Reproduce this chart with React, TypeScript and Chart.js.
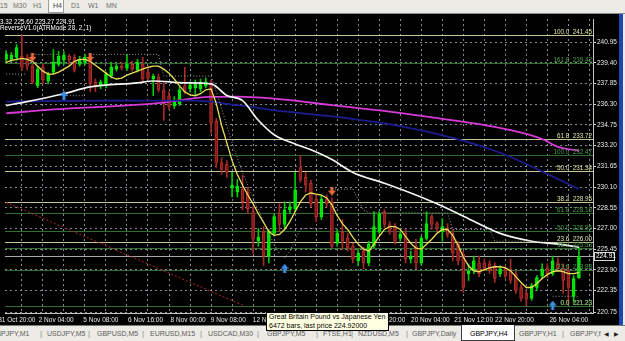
import React, { useEffect, useRef } from 'react';
import { Chart, registerables } from 'chart.js';

Chart.register(...registerables);
Chart.defaults.font.family = '"Liberation Sans", Arial, sans-serif';

// ---------------- data (GBPJPY, H4) ----------------
const opens = [
  239.66, 239.66, 239.81, 239.88, 239.74, 239.15, 237.68, 239.07, 238.04, 238.71,
  239.29, 239.59, 239.88, 239.81, 239.29, 239.44, 239.59, 237.97, 237.68, 237.68,
  238.41, 238.93, 239.15, 239.00, 239.29, 238.85, 239.29, 238.71, 238.19, 238.34,
  237.38, 236.94, 236.20, 236.35, 237.68, 237.45, 237.53, 237.45, 237.68, 237.82,
  235.03, 231.94, 231.79, 230.02, 229.73, 229.95, 229.73, 228.26, 226.05, 226.78,
  224.94, 226.64, 228.04, 227.30, 228.40, 228.48, 231.57, 230.83, 230.39, 229.21,
  227.89, 229.21, 228.99, 225.90, 226.78, 226.27, 225.68, 224.58, 225.31, 224.43,
  225.68, 226.78, 228.26, 227.30, 227.15, 226.27, 226.64, 224.72, 225.68, 224.43,
  226.27, 227.89, 227.37, 226.78, 227.01, 226.64, 225.83, 225.09, 223.62, 223.84,
  224.43, 224.43, 224.36, 224.21, 223.62, 223.99, 223.84, 223.62, 222.59, 222.15,
  221.78, 222.59, 223.48, 224.06, 223.62, 224.43, 223.99, 223.84, 221.93, 223.32,
];
const highs = [
  240.32, 240.18, 240.77, 241.45, 240.03, 239.29, 239.15, 239.29, 238.71, 240.40,
  240.25, 240.25, 240.03, 240.03, 239.88, 240.03, 239.74, 238.19, 238.12, 238.71,
  239.44, 239.29, 239.44, 240.03, 239.51, 239.66, 239.81, 239.00, 238.56, 238.56,
  237.97, 237.23, 236.87, 237.60, 239.07, 237.97, 238.12, 238.19, 238.26, 238.12,
  235.25, 232.30, 232.08, 231.20, 230.68, 230.98, 230.10, 228.63, 227.01, 227.15,
  226.93, 228.11, 228.85, 228.99, 228.99, 231.20, 232.45, 231.20, 230.61, 229.58,
  229.51, 229.51, 229.29, 226.93, 227.67, 226.64, 225.90, 225.46, 225.61, 226.05,
  228.26, 228.26, 228.40, 227.52, 227.37, 226.78, 226.93, 225.31, 226.20, 226.42,
  228.26, 228.04, 227.52, 227.74, 227.37, 226.93, 226.05, 225.31, 224.36, 224.94,
  224.94, 224.72, 224.58, 224.43, 224.21, 224.21, 224.72, 223.84, 222.81, 222.37,
  222.89, 223.48, 224.36, 224.36, 224.94, 224.80, 224.36, 224.21, 223.48, 225.60,
];
const lows = [
  239.44, 239.51, 239.59, 238.85, 238.85, 237.82, 237.53, 237.82, 237.82, 238.56,
  239.15, 239.29, 239.29, 238.71, 239.15, 239.29, 237.23, 237.23, 237.45, 237.53,
  238.26, 238.78, 238.85, 238.85, 238.78, 238.71, 237.97, 238.12, 236.94, 237.23,
  235.10, 235.91, 235.98, 236.20, 237.09, 237.23, 236.94, 237.23, 237.53, 234.14,
  231.57, 231.05, 230.83, 229.36, 229.36, 228.40, 228.11, 225.16, 225.68, 224.21,
  224.43, 226.42, 226.78, 226.93, 228.11, 228.26, 230.46, 229.73, 228.63, 227.52,
  227.67, 228.63, 225.53, 225.68, 225.46, 225.31, 224.43, 224.21, 223.99, 224.21,
  225.53, 226.64, 227.08, 226.56, 225.83, 226.05, 224.43, 224.43, 223.99, 224.28,
  226.12, 226.93, 226.78, 226.05, 226.34, 224.58, 224.28, 222.22, 223.11, 223.62,
  223.40, 223.84, 223.62, 222.96, 223.40, 223.26, 222.89, 222.15, 221.56, 221.23,
  221.63, 222.37, 223.26, 223.33, 223.48, 223.84, 222.15, 221.30, 221.49, 223.27,
];
const closes = [
  240.03, 239.96, 240.54, 239.07, 239.15, 237.97, 238.93, 238.12, 238.56, 239.44,
  239.88, 239.96, 239.59, 238.85, 239.66, 239.81, 237.82, 237.60, 237.97, 238.56,
  239.07, 239.15, 239.00, 239.29, 238.93, 239.44, 238.19, 238.26, 238.41, 237.38,
  236.35, 236.13, 236.50, 237.38, 237.23, 237.75, 237.82, 237.90, 237.97, 234.88,
  231.94, 231.42, 231.20, 230.24, 230.17, 228.99, 228.48, 226.20, 226.34, 224.94,
  226.78, 227.89, 227.30, 228.40, 228.63, 229.88, 230.68, 230.24, 228.85, 227.89,
  229.21, 228.85, 225.68, 226.64, 226.05, 225.53, 224.72, 225.16, 224.43, 225.83,
  227.15, 228.11, 227.30, 226.78, 226.05, 226.56, 224.72, 224.94, 224.43, 226.27,
  227.37, 227.30, 227.01, 227.15, 226.56, 225.16, 224.58, 222.59, 223.84, 224.58,
  223.62, 224.06, 223.84, 223.26, 223.99, 223.48, 223.11, 222.37, 221.78, 221.71,
  222.74, 223.33, 223.99, 223.62, 224.58, 223.99, 223.11, 222.59, 223.26, 224.91,
];

// fast moving average (yellow), one value per bar
const fastMA = [
  239.44, 239.59, 239.66, 239.74, 239.66, 239.51, 239.15, 238.78, 238.56, 238.56,
  238.71, 238.93, 239.15, 239.51, 239.66, 239.66, 239.51, 239.22, 238.93, 238.63,
  238.34, 238.19, 238.26, 238.48, 238.63, 238.78, 238.93, 239.07, 239.15, 239.15,
  238.93, 238.63, 238.19, 237.68, 237.23, 237.01, 236.94, 237.09, 237.38, 237.45,
  236.35, 234.73, 233.41, 232.08, 231.05, 230.24, 229.51, 228.85, 228.11, 227.45,
  226.78, 226.49, 226.56, 226.93, 227.52, 228.26, 228.99, 229.51, 229.66, 229.58,
  229.51, 229.29, 228.77, 227.96, 227.37, 226.93, 226.34, 225.83, 225.46, 225.31,
  225.83, 226.42, 226.93, 227.15, 227.15, 226.93, 226.42, 225.90, 225.53, 225.46,
  225.83, 226.20, 226.64, 226.93, 226.93, 226.49, 225.75, 224.87, 224.21, 223.84,
  223.77, 223.92, 224.06, 224.14, 224.14, 224.06, 223.84, 223.40, 222.96, 222.59,
  222.59, 222.89, 223.26, 223.55, 223.77, 223.84, 223.77, 223.62, 223.62, 223.70,
];

// slower averages, read at selected bars
const whiteBars = [0, 4, 11, 16, 25, 28, 34, 39, 42, 45, 48, 51, 55, 58, 62, 66, 72, 77, 82, 88, 94, 100, 105, 109];
const whiteMA = [236.20, 236.50, 237.09, 237.60, 237.90, 238.04, 237.90, 237.82, 236.96, 236.57, 235.10, 234.02, 233.33, 232.89, 232.16, 231.20, 230.39, 229.66, 228.85, 227.74, 226.64, 226.05, 225.83, 225.61];
const blueBars = [0, 19, 36, 44, 53, 62, 75, 85, 94, 102, 109];
const blueMA = [236.50, 236.57, 236.57, 236.23, 235.76, 235.39, 234.66, 233.78, 232.67, 231.27, 229.95];
const magentaBars = [0, 9, 19, 28, 39, 44, 53, 62, 71, 81, 90, 96, 102, 105, 109];
const magentaMA = [235.62, 235.91, 236.13, 236.35, 236.85, 236.87, 236.65, 236.23, 235.84, 235.32, 234.81, 234.36, 233.70, 233.11, 232.82];

// ReverseV1.0 trailing stop (dotted), above / below price
const stopAbove = [
  null, null, null, null, null, 240.03, 240.03, 240.03, 240.03, 240.03,
  240.03, null, null, null, null, null, 240.03, 240.03, 240.03, 240.03,
  240.03, 240.03, 240.03, 240.03, 240.03, 240.03, 240.03, 240.03, 240.03, 240.03,
  238.41, 238.41, 238.41, 238.41, 238.41, 238.41, 238.41, 238.41, 238.41, 238.41,
  237.23, 235.98, 234.73, 233.41, 232.30, 231.20, 230.24, 229.29, 228.40, 227.52,
  226.64, 225.83, 225.16, null, null, null, null, null, null, null,
  null, null, 229.95, 229.95, 229.95, 229.95, 229.95, 229.14, 228.40, 228.18,
  228.18, 228.18, 228.18, 228.18, 228.18, 228.18, 228.18, 228.18, 228.18, 228.18,
  228.18, 228.18, 228.18, 228.18, 228.18, 226.93, 226.93, 226.93, 226.93, 226.93,
  226.93, 226.93, 226.93, 226.05, 226.05, 226.05, 226.05, 226.05, 226.05, 226.05,
  226.05, 226.05, 226.05, 226.05, null, null, null, null, null, null,
];
const stopBelow = [
  238.56, 238.56, 238.56, 238.56, 238.56, null, null, null, null, null,
  null, 236.94, 236.94, 236.94, 236.94, 236.94, null, null, null, null,
  null, null, null, null, null, null, null, null, null, null,
  null, null, null, null, null, null, null, null, null, null,
  null, null, null, null, null, null, null, null, null, null,
  null, null, null, 224.80, 225.31, 226.20, 226.93, 227.01, 227.01, 227.01,
  227.01, 227.01, null, null, null, null, null, null, null, null,
  null, null, null, null, null, null, null, null, null, null,
  null, null, null, null, null, null, null, null, null, null,
  null, null, null, null, null, null, null, null, null, null,
  null, null, null, null, 221.93, 221.93, 221.93, 221.93, 221.93, 221.93,
];

// signal arrows
const sellBars = [5, 16, 62];
const sellPrices = [239.81, 239.81, 229.80];
const buyBars = [11, 53, 104];
const buyPrices = [236.98, 224.03, 221.27];

// hand-drawn trend line (red dotted)
const trendBars = [0, 45];
const trendPrices = [228.96, 221.27];

// Fibonacci retracements
const fibALevels = ['0.0', '23.6', '38.2', '50.0', '61.8', '100.0'];
const fibAPrices = [221.23, 226.00, 228.95, 231.34, 233.72, 241.45];
const fibBLevels = ['0.0', '23.6', '38.2', '50.0', '61.8', '100.0', '161.8'];
const fibBPrices = [221.23, 223.88, 225.53, 226.85, 228.18, 232.47, 239.42];

const lastPrice = 224.91;
const headerOHLC = '223.32 225.60 223.27 224.91';
const indicatorName = 'ReverseV1.0(ATRMode 28, 2, 1)';

// axes
const priceTicks = [220.75, 222.35, 223.90, 225.45, 227.00, 228.55, 230.10, 231.65, 233.20, 234.75, 236.30, 237.85, 239.40, 240.95];
const timeTickBars = [-1.5, 6.2, 14.7, 23.2, 31.3, 38.95, 46.95, 68.6, 77.05, 85.3, 93.05, 103.4];
const timeLabels = ['31 Oct 20:00', '2 Nov 04:00', '5 Nov 08:00', '6 Nov 16:00', '8 Nov 00:00', '9 Nov 08:00', '12 Nov 16:00', '16 Nov 20:00', '20 Nov 04:00', '21 Nov 12:00', '22 Nov 20:00', '26 Nov 04:00'];
const gridBars = [3, 7, 11, 15, 19, 23, 27, 31, 35, 39, 43, 47, 51, 55, 59, 63, 67, 71, 75, 79, 83, 87, 91, 95, 99, 103, 107, 111];
const X_MIN = -0.21;
const X_MAX = 111.68;
const Y_MIN = 220.68;
const Y_MAX = 242.68;

// UI chrome text
const timeframes = ['M15', 'M30', 'H1', 'H4', 'D1', 'W1', 'MN'];
const tabs = ['GBPJPY,M1', 'USDJPY,M5', 'GBPUSD,M5', 'EURUSD,M15', 'USDCAD,M30', 'GBPJPY,M5', 'FTSE,H1', 'NZDUSD,M5', 'GBPJPY,Daily', 'GBPJPY,H4', 'GBPJPY,H1', 'GBPJPY,f'];
const tooltipLines = ['Great Britain Pound vs Japanese Yen', '6472 bars, last price 224.92000'];

// ---------------- styling ----------------
const FONT = '"Liberation Sans", Arial, sans-serif';
const GRID = 'rgba(150,160,172,0.85)';
const FIB_A_LINE = '#c6c690';
const FIB_A_TEXT = '#e4e4b0';
const FIB_B_LINE = '#2f6e2f';
const FIB_B_TEXT = '#4f9e4f';
const tfLeft = [-6, 13, 33, 53, 71, 88, 106];
const tabLeft = [-9, 47, 97, 150, 208, 267, 323, 358, 412, 470, 519, 570];
const sepLeft = [40, 88, 142, 200, 257, 316, 351, 406, 562];

function makeArrow(color: string, down: boolean) {
  const c = document.createElement('canvas');
  c.width = 8;
  c.height = 9;
  const g = c.getContext('2d')!;
  g.fillStyle = color;
  if (down) {
    g.fillRect(2.5, 0, 3, 4.5);
    g.beginPath();
    g.moveTo(0, 4);
    g.lineTo(8, 4);
    g.lineTo(4, 9);
    g.closePath();
    g.fill();
  } else {
    g.beginPath();
    g.moveTo(4, 0);
    g.lineTo(8, 5);
    g.lineTo(0, 5);
    g.closePath();
    g.fill();
    g.fillRect(2.5, 4.5, 3, 4.5);
  }
  return c;
}

const overlayPlugin = {
  id: 'mt4overlay',
  beforeDatasetsDraw(chart: any) {
    const { ctx, chartArea: a } = chart;
    const y = chart.scales.y;
    ctx.save();
    ctx.beginPath();
    ctx.rect(a.left, a.top, a.right - a.left, a.bottom - a.top);
    ctx.clip();
    ctx.lineWidth = 1;
    const hline = (p: number, color: string) => {
      const py = Math.round(y.getPixelForValue(p)) + 0.5;
      ctx.strokeStyle = color;
      ctx.beginPath();
      ctx.moveTo(a.left, py);
      ctx.lineTo(a.right, py);
      ctx.stroke();
    };
    fibAPrices.forEach((p) => hline(p, FIB_A_LINE));
    fibBPrices.forEach((p) => hline(p, FIB_B_LINE));
    hline(lastPrice, 'rgba(185,185,185,0.9)');
    ctx.restore();
  },
  afterDatasetsDraw(chart: any) {
    const { ctx, chartArea: a } = chart;
    const y = chart.scales.y;
    ctx.save();
    ctx.font = '6.3px ' + FONT;
    ctx.textAlign = 'right';
    ctx.textBaseline = 'alphabetic';
    const label = (lv: string, p: number, color: string) => {
      const py = Math.round(y.getPixelForValue(p));
      ctx.fillStyle = color;
      ctx.fillText(lv + '  ' + p.toFixed(2), a.right - 1, py - 1);
    };
    fibALevels.forEach((lv, k) => label(lv, fibAPrices[k], FIB_A_TEXT));
    fibBLevels.forEach((lv, k) => label(lv, fibBPrices[k], FIB_B_TEXT));

    // header text
    ctx.textAlign = 'left';
    ctx.fillStyle = '#ffffff';
    const pre = ctx.measureText('22').width;
    ctx.fillText(headerOHLC, -pre, 10);
    ctx.fillText(indicatorName, 0, 16);

    // current price box on the axis
    const py = Math.round(y.getPixelForValue(lastPrice));
    ctx.fillStyle = '#000000';
    ctx.fillRect(a.right + 1, py - 4, 21, 9);
    ctx.strokeStyle = '#d8d8d8';
    ctx.lineWidth = 1;
    ctx.strokeRect(a.right + 1.5, py - 3.5, 20, 8);
    ctx.fillStyle = '#ffffff';
    ctx.textBaseline = 'middle';
    ctx.font = '6.5px ' + FONT;
    ctx.fillText(lastPrice.toFixed(2), a.right + 3, py + 0.5);
    ctx.restore();
  },
};

export default function App() {
  const ref = useRef<HTMLCanvasElement>(null);

  useEffect(() => {
    const canvas = ref.current;
    if (!canvas) return;
    const sellArrow = makeArrow('#ec6a3c', true);
    const buyArrow = makeArrow('#3b8fe6', false);
    const isUp = (i: number) => closes[i] >= opens[i];
    const labelMap = new Map<number, string>();
    timeTickBars.forEach((v, k) => labelMap.set(v, timeLabels[k]));
    const xTicks = [...gridBars, ...timeTickBars].sort((p, q) => p - q);

    const chart = new Chart(canvas, {
      type: 'bar',
      data: {
        datasets: [
          {
            type: 'bar',
            label: 'wicks',
            data: opens.map((_, i) => ({ x: i, y: [lows[i], highs[i]] })) as any,
            backgroundColor: opens.map((_, i) => (isUp(i) ? '#00c800' : '#a82a28')),
            borderWidth: 0,
            barThickness: 1,
            grouped: false,
            order: 20,
          },
          {
            type: 'bar',
            label: 'bodies',
            data: opens.map((o, i) => ({ x: i, y: [o, closes[i]] })) as any,
            backgroundColor: opens.map((_, i) => (isUp(i) ? '#00e000' : '#861818')),
            borderColor: opens.map((_, i) => (isUp(i) ? '#00f000' : '#b0302c')),
            borderWidth: 1,
            borderSkipped: false,
            barThickness: 3,
            minBarLength: 1,
            grouped: false,
            order: 19,
          },
          {
            type: 'line',
            label: 'trend',
            data: trendBars.map((b, k) => ({ x: b, y: trendPrices[k] })),
            borderColor: '#b42626',
            borderWidth: 1,
            borderDash: [2, 2],
            pointRadius: 0,
            order: 18,
          },
          {
            type: 'line',
            label: 'magenta',
            data: magentaBars.map((b, k) => ({ x: b, y: magentaMA[k] })),
            borderColor: '#d83ad8',
            borderWidth: 1.8,
            pointRadius: 0,
            cubicInterpolationMode: 'monotone',
            order: 17,
          },
          {
            type: 'line',
            label: 'blue',
            data: blueBars.map((b, k) => ({ x: b, y: blueMA[k] })),
            borderColor: '#1c1c90',
            borderWidth: 1.8,
            pointRadius: 0,
            cubicInterpolationMode: 'monotone',
            order: 16,
          },
          {
            type: 'line',
            label: 'white',
            data: whiteBars.map((b, k) => ({ x: b, y: whiteMA[k] })),
            borderColor: '#f4f4f4',
            borderWidth: 1.7,
            pointRadius: 0,
            cubicInterpolationMode: 'monotone',
            order: 15,
          },
          {
            type: 'line',
            label: 'stopAbove',
            data: stopAbove.map((v, i) => ({ x: i, y: v })) as any,
            borderColor: '#9a9a9a',
            borderWidth: 1,
            borderDash: [1, 2],
            pointRadius: 0,
            spanGaps: false,
            order: 14,
          },
          {
            type: 'line',
            label: 'stopBelow',
            data: stopBelow.map((v, i) => ({ x: i, y: v })) as any,
            borderColor: '#9a9a9a',
            borderWidth: 1,
            borderDash: [1, 2],
            pointRadius: 0,
            spanGaps: false,
            order: 13,
          },
          {
            type: 'line',
            label: 'fast',
            data: fastMA.map((v, i) => ({ x: i, y: v })),
            borderColor: '#eadf5a',
            borderWidth: 1.3,
            pointRadius: 0,
            order: 11,
          },
          {
            type: 'line',
            label: 'sell',
            data: sellBars.map((b, k) => ({ x: b, y: sellPrices[k] })),
            showLine: false,
            pointStyle: sellArrow as any,
            pointRadius: 4,
            order: 1,
          },
          {
            type: 'line',
            label: 'buy',
            data: buyBars.map((b, k) => ({ x: b, y: buyPrices[k] })),
            showLine: false,
            pointStyle: buyArrow as any,
            pointRadius: 4,
            order: 1,
          },
        ],
      },
      options: {
        animation: false,
        responsive: false,
        maintainAspectRatio: false,
        devicePixelRatio: 1,
        events: [],
        layout: { padding: 0 },
        plugins: {
          legend: { display: false },
          tooltip: { enabled: false },
        },
        scales: {
          x: {
            type: 'linear',
            position: 'bottom',
            min: X_MIN,
            max: X_MAX,
            bounds: 'data',
            offset: false,
            grid: {
              offset: false,
              drawTicks: false,
              lineWidth: 1,
              color: (c: any) => (c.tick && labelMap.has(c.tick.value) ? 'rgba(0,0,0,0)' : GRID),
            },
            border: { display: true, color: '#c4c4c4', width: 1, dash: [2, 3] },
            ticks: {
              autoSkip: false,
              maxRotation: 0,
              minRotation: 0,
              align: 'start',
              padding: 3,
              color: '#e8e8e8',
              font: { size: 6.5, family: FONT },
              callback: (v: any) => labelMap.get(v) ?? '',
            },
            afterBuildTicks: (s: any) => {
              s.ticks = xTicks.map((v) => ({ value: v }));
            },
            afterFit: (s: any) => {
              s.height = 12;
              s.paddingLeft = 0;
              s.paddingRight = 0;
            },
          },
          y: {
            type: 'linear',
            position: 'right',
            min: Y_MIN,
            max: Y_MAX,
            bounds: 'data',
            beginAtZero: false,
            grid: { color: GRID, lineWidth: 1, drawTicks: true, tickLength: 3, tickColor: '#d0d0d0' },
            border: { display: true, color: '#c4c4c4', width: 1, dash: [2, 3] },
            ticks: {
              padding: 1,
              color: '#e8e8e8',
              font: { size: 6.5, family: FONT },
              callback: (v: any) => Number(v).toFixed(2),
            },
            afterBuildTicks: (s: any) => {
              s.ticks = priceTicks.map((v) => ({ value: v }));
            },
            afterFit: (s: any) => {
              s.width = 27;
              s.paddingTop = 0;
              s.paddingBottom = 0;
            },
          },
        },
      } as any,
      plugins: [overlayPlugin],
    });
    return () => chart.destroy();
  }, []);

  return (
    <div
      style={{
        position: 'fixed',
        left: 0,
        top: 0,
        width: 625,
        height: 341,
        overflow: 'hidden',
        background: '#000',
        fontFamily: FONT,
      }}
    >
      {/* timeframe toolbar */}
      <div style={{ position: 'absolute', left: 0, top: 0, width: 625, height: 13, background: '#ecebe5', borderBottom: '1px solid #8a8a8a' }}>
        <div style={{ position: 'absolute', left: 48, top: 0, width: 14, height: 12, background: '#fbfbf9', border: '1px solid #9c9c9c', borderTop: 'none' }} />
        {timeframes.map((t, k) => (
          <span
            key={t}
            style={{ position: 'absolute', left: tfLeft[k], top: 2, fontSize: 7, lineHeight: '8px', color: k === 3 ? '#444' : '#707070', whiteSpace: 'nowrap' }}
          >
            {t}
          </span>
        ))}
      </div>

      <canvas ref={ref} width={620} height={311} style={{ position: 'absolute', left: 0, top: 14, width: 620, height: 311 }} />

      {/* right window edge */}
      <div style={{ position: 'absolute', left: 619, top: 14, width: 4, height: 311, background: '#1f45b5' }} />
      <div style={{ position: 'absolute', left: 623, top: 14, width: 2, height: 311, background: '#ecebe5' }} />

      {/* symbol tooltip */}
      <div
        style={{
          position: 'absolute',
          left: 266,
          top: 312,
          width: 119,
          height: 17,
          background: '#ffffe1',
          border: '1px solid #000',
          color: '#000',
          fontSize: 7,
          lineHeight: '8.5px',
          paddingLeft: 2,
          whiteSpace: 'nowrap',
          zIndex: 3,
        }}
      >
        {tooltipLines.map((l) => (
          <div key={l}>{l}</div>
        ))}
      </div>

      {/* chart tabs */}
      <div style={{ position: 'absolute', left: 0, top: 325, width: 625, height: 16, background: '#ecebe5', borderTop: '1px solid #7a7a7a', zIndex: 2 }}>
        <div style={{ position: 'absolute', left: 461, top: -1, width: 52, height: 15, background: '#ffffff', border: '1px solid #404040', borderTop: 'none' }} />
        {sepLeft.map((x) => (
          <span key={x} style={{ position: 'absolute', left: x, top: 3, fontSize: 8, lineHeight: '9px', color: '#8a8a8a' }}>|</span>
        ))}
        {tabs.map((t, k) => (
          <span
            key={t}
            style={{ position: 'absolute', left: tabLeft[k], top: 4, fontSize: 7, lineHeight: '8px', color: k === 9 ? '#000' : '#5c5c5c', whiteSpace: 'nowrap' }}
          >
            {t}
          </span>
        ))}
        <span style={{ position: 'absolute', left: 604, top: 4, fontSize: 6, lineHeight: '8px', color: '#222' }}>◀</span>
        <span style={{ position: 'absolute', left: 614, top: 4, fontSize: 6, lineHeight: '8px', color: '#222' }}>▶</span>
      </div>
    </div>
  );
}
